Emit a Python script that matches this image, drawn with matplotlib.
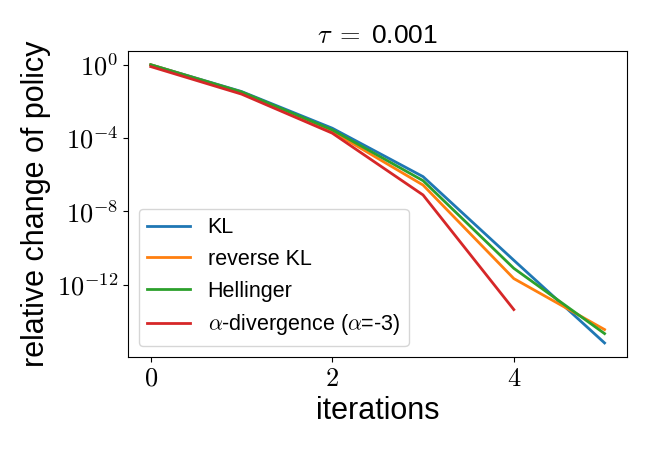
import numpy as np
import matplotlib
matplotlib.use("Agg")
import matplotlib.pyplot as plt
from matplotlib.ticker import FuncFormatter, LogLocator, NullLocator

plt.rcParams['font.family'] = ['Liberation Sans', 'DejaVu Sans']
plt.rcParams['mathtext.fontset'] = 'cm'

iterations = [0, 1, 2, 3, 4, 5]
# log10 of relative change of policy
kl = [0.0, -1.46, -3.46, -6.1, -10.66, -15.17]
reverse_kl = [0.0, -1.5, -3.64, -6.56, -11.66, -14.44]
hellinger = [0.0, -1.48, -3.55, -6.32, -11.1, -14.66]
alpha_div = [-0.1, -1.6, -3.73, -7.1, -13.35]

series = [
    ("KL", kl, "#1f77b4"),
    ("reverse KL", reverse_kl, "#ff7f0e"),
    ("Hellinger", hellinger, "#2ca02c"),
    (r"$\alpha$-divergence ($\alpha$=-3)", alpha_div, "#d62728"),
]

fig, ax = plt.subplots(figsize=(6.5, 4.5), dpi=100)
for name, vals, col in series:
    ax.plot(iterations[:len(vals)], 10.0 ** np.array(vals), color=col, lw=2, label=name)

ax.set_yscale("log")
ax.yaxis.set_major_locator(LogLocator(base=10000.0))
ax.yaxis.set_minor_locator(NullLocator())
ax.yaxis.set_major_formatter(FuncFormatter(lambda v, p: r"$10^{%d}$" % round(np.log10(v))))
ax.set_xticks([0, 2, 4])
ax.xaxis.set_major_formatter(FuncFormatter(lambda v, p: r"$%d$" % v))
ax.tick_params(labelsize=19)

ax.set_title(r"$\tau\;=\;$0.001", fontsize=19)
ax.set_xlabel("iterations", fontsize=22)
ax.set_ylabel("relative change of policy", fontsize=22)
ax.legend(loc="lower left", fontsize=15.5)

fig.subplots_adjust(left=0.197, right=0.965, top=0.887, bottom=0.207)
fig.savefig("out.png")
